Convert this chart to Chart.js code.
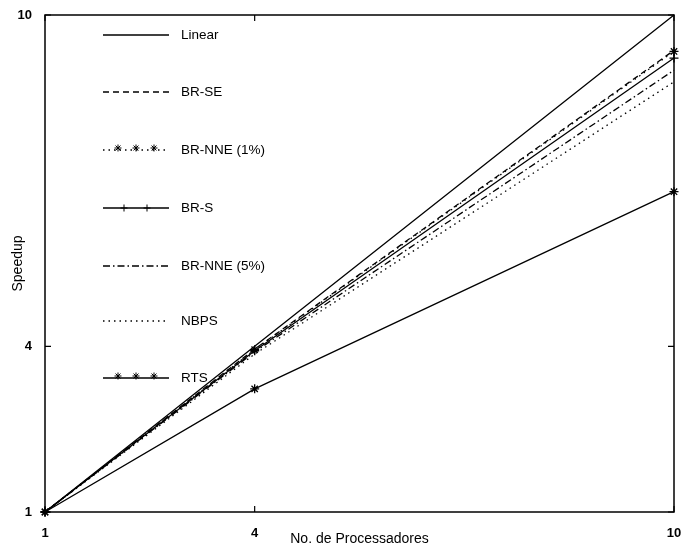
<!DOCTYPE html>
<html>
<head>
<meta charset="utf-8">
<script src="https://cdn.jsdelivr.net/npm/chart.js@4.4.1/dist/chart.umd.min.js"></script>
<style>
	html, body { margin: 0; padding: 0; background: #fff; }
	canvas { display: block; }
</style>
</head>
<body>
<canvas id="speedup" width="681" height="549"></canvas>
<script>
// data
const processors = [1, 4, 10]
const tickValues = [1, 4, 10]
const seriesNames = ['Linear', 'BR-SE', 'BR-NNE (1%)', 'BR-S', 'BR-NNE (5%)', 'NBPS', 'RTS']
const linear = [1, 4, 10]
const brSE = [1, 3.95, 9.36]
const brNNE1 = [1, 3.94, 9.34]
const brS = [1, 3.92, 9.22]
const brNNE5 = [1, 3.9, 9.0]
const nbps = [1, 3.86, 8.79]
const rts = [1, 3.23, 6.8]

Chart.defaults.font.family = '"Liberation Sans", Arial, sans-serif'
Chart.defaults.color = '#000'

function points(values) {
	return processors.map((p, i) => ({ x: p, y: values[i] }))
}

function series(label, values, dash, marker) {
	return {
		label: label,
		data: points(values),
		borderColor: '#000',
		backgroundColor: '#000',
		borderWidth: 1.3,
		borderDash: dash,
		pointStyle: marker || false,
		pointRadius: marker ? 4.5 : 0,
		pointBorderWidth: 1.3,
		clip: false,
		tension: 0,
		fill: false,
	}
}

const datasets = [
	series(seriesNames[0], linear, []),
	series(seriesNames[1], brSE, [6, 4]),
	series(seriesNames[2], brNNE1, [1.5, 4], 'star'),
	series(seriesNames[3], brS, [], 'cross'),
	series(seriesNames[4], brNNE5, [7, 3, 1.5, 3]),
	series(seriesNames[5], nbps, [1.5, 4]),
	series(seriesNames[6], rts, [], 'star'),
]

function marker(ctx, style, x, y, r) {
	ctx.beginPath()
	ctx.moveTo(x, y - r); ctx.lineTo(x, y + r)
	ctx.moveTo(x - r, y); ctx.lineTo(x + r, y)
	if (style === 'star') {
		const d = r * 0.7
		ctx.moveTo(x - d, y - d); ctx.lineTo(x + d, y + d)
		ctx.moveTo(x - d, y + d); ctx.lineTo(x + d, y - d)
	}
	ctx.stroke()
}

// box, inward ticks and the legend block inside the plot
const framePlugin = {
	id: 'frame',
	afterDraw(chart) {
		const ctx = chart.ctx
		const a = chart.chartArea
		const xs = chart.scales.x
		const ys = chart.scales.y
		ctx.save()
		ctx.strokeStyle = '#000'
		ctx.lineWidth = 1.5
		ctx.setLineDash([])
		ctx.strokeRect(a.left, a.top, a.right - a.left, a.bottom - a.top)
		ctx.lineWidth = 1.2
		ctx.beginPath()
		tickValues.forEach(v => {
			const px = xs.getPixelForValue(v)
			ctx.moveTo(px, a.bottom); ctx.lineTo(px, a.bottom - 6)
			ctx.moveTo(px, a.top); ctx.lineTo(px, a.top + 6)
			const py = ys.getPixelForValue(v)
			ctx.moveTo(a.left, py); ctx.lineTo(a.left + 6, py)
			ctx.moveTo(a.right, py); ctx.lineTo(a.right - 6, py)
		})
		ctx.stroke()

		// legend
		const rowY = [35, 92, 150, 208, 266, 321, 378]
		ctx.font = '13.5px "Liberation Sans", Arial, sans-serif'
		ctx.textBaseline = 'middle'
		ctx.fillStyle = '#000'
		chart.data.datasets.forEach((ds, i) => {
			const y = rowY[i]
			ctx.lineWidth = 1.3
			ctx.setLineDash(ds.borderDash || [])
			ctx.beginPath()
			ctx.moveTo(103, y); ctx.lineTo(169, y)
			ctx.stroke()
			ctx.setLineDash([])
			ctx.lineWidth = 1
			if (ds.pointStyle === 'cross') {
				[124, 147].forEach(mx => marker(ctx, 'cross', mx, y, 3.5))
			} else if (ds.pointStyle) {
				[118, 136, 154].forEach(mx => marker(ctx, ds.pointStyle, mx, y - 2, 3.5))
			}
			ctx.fillText(ds.label, 181, y)
		})
		ctx.restore()
	},
}

const config = {
	type: 'line',
	data: { datasets: datasets },
	options: {
		responsive: false,
		animation: false,
		layout: {
			padding: { top: 15, right: 7, bottom: 0, left: 0 },
		},
		plugins: {
			legend: { display: false },
			tooltip: { enabled: false },
		},
		scales: {
			x: {
				type: 'linear',
				min: 1,
				max: 10,
				afterBuildTicks: s => { s.ticks = tickValues.map(v => ({ value: v })) },
				afterFit: s => {
					s.height = 37
					s.paddingLeft = 0
					s.paddingRight = 0
				},
				grid: { display: false },
				border: { display: false },
				ticks: {
					padding: 6,
					font: { size: 13, weight: 'bold' },
					callback: v => String(v),
				},
				title: {
					display: true,
					text: 'No. de Processadores',
					font: { size: 14 },
					padding: { top: 0, bottom: 1 },
				},
			},
			y: {
				type: 'linear',
				min: 1,
				max: 10,
				afterBuildTicks: s => { s.ticks = tickValues.map(v => ({ value: v })) },
				afterFit: s => {
					s.width = 45
					s.paddingTop = 0
					s.paddingBottom = 0
				},
				grid: { display: false },
				border: { display: false },
				ticks: {
					padding: 5,
					font: { size: 13, weight: 'bold' },
					callback: v => String(v),
				},
				title: {
					display: true,
					text: 'Speedup',
					font: { size: 14 },
					padding: { top: 10, bottom: 0 },
				},
			},
		},
	},
	plugins: [framePlugin],
}

const chart = new Chart(document.getElementById('speedup').getContext('2d'), config)
</script>
</body>
</html>
